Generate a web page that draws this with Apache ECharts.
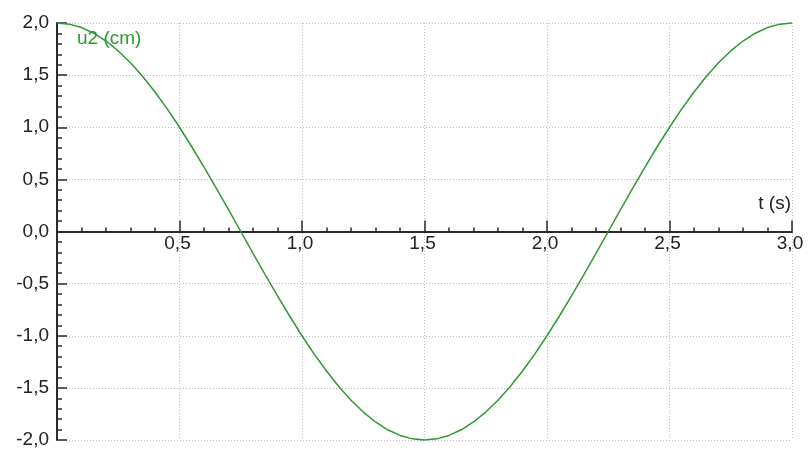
<!DOCTYPE html>
<html>
<head>
<meta charset="utf-8">
<script src="https://cdn.jsdelivr.net/npm/echarts@6/dist/echarts.min.js"></script>
<style>
  html, body { margin: 0; padding: 0; background: #fff; }
  #chart { width: 809px; height: 451px; }
</style>
</head>
<body>
<div id="chart"></div>
<script>
// Time samples (s) and displacement u2 (cm)
var tValues = [
  0.00, 0.05, 0.10, 0.15, 0.20, 0.25, 0.30, 0.35, 0.40, 0.45,
  0.50, 0.55, 0.60, 0.65, 0.70, 0.75, 0.80, 0.85, 0.90, 0.95,
  1.00, 1.05, 1.10, 1.15, 1.20, 1.25, 1.30, 1.35, 1.40, 1.45,
  1.50, 1.55, 1.60, 1.65, 1.70, 1.75, 1.80, 1.85, 1.90, 1.95,
  2.00, 2.05, 2.10, 2.15, 2.20, 2.25, 2.30, 2.35, 2.40, 2.45,
  2.50, 2.55, 2.60, 2.65, 2.70, 2.75, 2.80, 2.85, 2.90, 2.95,
  3.00
];
var u2Values = [
  2.000, 1.989, 1.956, 1.902, 1.827, 1.732, 1.618, 1.486, 1.338, 1.176,
  1.000, 0.813, 0.618, 0.416, 0.209, 0.000, -0.209, -0.416, -0.618, -0.813,
  -1.000, -1.176, -1.338, -1.486, -1.618, -1.732, -1.827, -1.902, -1.956, -1.989,
  -2.000, -1.989, -1.956, -1.902, -1.827, -1.732, -1.618, -1.486, -1.338, -1.176,
  -1.000, -0.813, -0.618, -0.416, -0.209, 0.000, 0.209, 0.416, 0.618, 0.813,
  1.000, 1.176, 1.338, 1.486, 1.618, 1.732, 1.827, 1.902, 1.956, 1.989,
  2.000
];
var xAxisTitle = 't (s)';
var seriesTitle = 'u2 (cm)';

var FONT = 'Liberation Sans';
var lineColor = '#2f9a2f';
var axisColor = '#2a2a2a';
var textColor = '#222222';
var gridColor = '#bdbdbd';

var GRID_TOP = 23, GRID_BOTTOM = 11, CHART_H = 451;
// The y range is symmetric, so the zero line sits halfway up the plot area;
// shift the time axis (line, ticks and labels together) up to it.
var zeroOffset = -(CHART_H - GRID_TOP - GRID_BOTTOM) / 2;

function commaLabel(v) {
  return v.toFixed(1).replace('.', ',');
}

var points = tValues.map(function (t, i) { return [t, u2Values[i]]; });

var chart = echarts.init(document.getElementById('chart'), null, { renderer: 'canvas' });
chart.setOption({
  animation: false,
  backgroundColor: '#ffffff',
  grid: { left: 57, right: 17, top: GRID_TOP, bottom: GRID_BOTTOM, containLabel: false, outerBoundsMode: 'none' },
  xAxis: {
    type: 'value',
    position: 'bottom',
    offset: zeroOffset,
    min: 0, max: 3, interval: 0.5,
    axisLine: { onZero: false, lineStyle: { color: axisColor, width: 2 } },
    axisTick: { show: true, inside: true, length: 11, lineStyle: { color: axisColor, width: 1.5 } },
    minorTick: { show: true, splitNumber: 5, length: 4, lineStyle: { color: axisColor, width: 1.5 } },
    axisLabel: {
      margin: 3, color: textColor, fontFamily: FONT, fontSize: 19,
      padding: [0, 4, 0, 0],
      formatter: function (v) { return v === 0 ? '' : commaLabel(v); }
    },
    splitLine: { show: true, lineStyle: { color: gridColor, type: [1, 2], width: 1 } }
  },
  yAxis: {
    type: 'value',
    min: -2, max: 2, interval: 0.5,
    axisLine: { show: true, onZero: false, lineStyle: { color: axisColor, width: 2 } },
    axisTick: { show: true, inside: true, length: 10, lineStyle: { color: axisColor, width: 1.5 } },
    minorTick: { show: true, splitNumber: 5, length: 5, lineStyle: { color: axisColor, width: 1.5 } },
    axisLabel: {
      margin: 8, color: textColor, fontFamily: FONT, fontSize: 19,
      formatter: function (v) { return commaLabel(v); }
    },
    splitLine: { show: true, lineStyle: { color: gridColor, type: [1, 2], width: 1 } }
  },
  graphic: [
    {
      type: 'text', right: 18, top: 194,
      style: { text: xAxisTitle, fill: textColor, font: '19px "' + FONT + '"' }
    },
    {
      type: 'text', left: 77, top: 29,
      style: { text: seriesTitle, fill: lineColor, font: '19px "' + FONT + '"' }
    }
  ],
  series: [{
    type: 'line',
    data: points,
    showSymbol: false,
    lineStyle: { color: lineColor, width: 1.5 },
    clip: false
  }]
});
</script>
</body>
</html>
